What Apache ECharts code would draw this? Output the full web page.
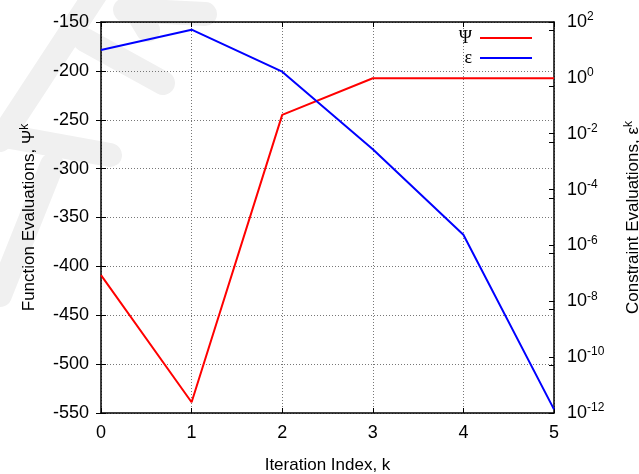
<!DOCTYPE html>
<html><head><meta charset="utf-8">
<script src="https://cdn.jsdelivr.net/npm/echarts@6/dist/echarts.min.js"></script>
<style>html,body{margin:0;padding:0;background:#fff}#c{width:639px;height:474px}</style>
</head><body><div id="c"></div>
<script>
const iterations = [0, 1, 2, 3, 4, 5];
const psiValues = [-409, -539, -245, -207.5, -207.5, -207.5];
const epsValues = [10, 53, 1.66, 2.77e-3, 2.4e-6, 1.35e-12];
const leftTicks = {min: -550, max: -150, interval: 50};
const rightTicks = {min: 1e-12, max: 1e2};

const font = 'Liberation Sans, Arial, sans-serif';
const chart = echarts.init(document.getElementById('c'), null, {renderer: 'canvas'});
const supRich = {
  base: {fontFamily: font, fontSize: 18, color: '#000'},
  sup: {fontFamily: font, fontSize: 12, color: '#000', verticalAlign: 'bottom', padding: [0, 0, 10, 0]}
};
const nameRich = {
  sup: {fontFamily: font, fontSize: 12, color: '#000', verticalAlign: 'bottom', padding: [0, 0, 9, 0]}
};
const gridLine = {show: true, lineStyle: {color: '#777', type: [1, 2], width: 1}};
const wm = (pts) => ({
  type: 'polyline', z: -5, silent: true,
  shape: {points: pts},
  style: {stroke: '#f0f0f0', lineWidth: 24, lineCap: 'round', lineJoin: 'round', fill: null}
});
chart.setOption({
  animation: false,
  graphic: [
    wm([[95, -5], [0, 140]]),
    wm([[85, 40], [163, 83]]),
    wm([[130, 0], [148, 30]]),
    wm([[125, 10], [205, 14]]),
    wm([[0, 135], [110, 155]]),
    wm([[0, 295], [52, 165]])
  ],
  grid: {left: 101, right: 85, top: 22, bottom: 61, containLabel: false, outerBoundsMode: 'none'},
  legend: {
    orient: 'vertical', right: 102, top: 24, align: 'right',
    itemWidth: 52, itemHeight: 2, itemGap: 2, icon: 'rect',
    textStyle: {fontFamily: 'Liberation Serif, Times New Roman, serif', fontSize: 18, color: '#000', padding: [0, 3, 0, 0]},
    data: ['Ψ', 'ε']
  },
  xAxis: [{
    type: 'value', min: 0, max: 5, interval: 1,
    name: 'Iteration Index, k', nameLocation: 'middle', nameGap: 44,
    nameTextStyle: {fontFamily: font, fontSize: 17, color: '#000'},
    axisLine: {show: true, onZero: false, lineStyle: {color: '#000', width: 1.5}},
    axisTick: {show: true, inside: true, length: 5, lineStyle: {color: '#000'}},
    axisLabel: {fontFamily: font, fontSize: 18, color: '#000', margin: 11},
    splitLine: gridLine
  }, {
    type: 'value', min: 0, max: 5, interval: 1, position: 'top',
    axisLine: {show: true, onZero: false, lineStyle: {color: '#000', width: 1.5}},
    axisTick: {show: true, inside: true, length: 5, lineStyle: {color: '#000'}},
    axisLabel: {show: false}, splitLine: {show: false}
  }],
  yAxis: [{
    type: 'value', min: leftTicks.min, max: leftTicks.max, interval: leftTicks.interval,
    name: 'Function Evaluations, Ψ{sup|k}', nameLocation: 'middle', nameGap: 61,
    nameTextStyle: {fontFamily: font, fontSize: 17, color: '#000', rich: nameRich},
    axisLine: {show: true, onZero: false, lineStyle: {color: '#000', width: 1.5}},
    axisTick: {show: true, inside: true, length: 5, lineStyle: {color: '#000'}},
    axisLabel: {fontFamily: font, fontSize: 18, color: '#000', margin: 12},
    splitLine: gridLine
  }, {
    type: 'log', logBase: 10, min: rightTicks.min, max: rightTicks.max, interval: 2, position: 'right',
    name: 'Constraint Evaluations, ε{sup|k}', nameLocation: 'middle', nameGap: 69, nameRotate: 90,
    nameTextStyle: {fontFamily: font, fontSize: 17, color: '#000', rich: nameRich},
    axisLine: {show: true, onZero: false, lineStyle: {color: '#000', width: 1.5}},
    axisTick: {show: true, inside: true, length: 5, lineStyle: {color: '#000'}},
    minorTick: {show: true, splitNumber: 2, length: 5, lineStyle: {color: '#000'}},
    axisLabel: {
      margin: 13,
      formatter: v => '{base|10}{sup|' + Math.round(Math.log10(v)) + '}',
      rich: supRich
    },
    splitLine: {show: false}
  }, {
    type: 'value', min: leftTicks.min, max: leftTicks.max, interval: leftTicks.interval, position: 'right',
    axisLine: {show: false}, axisLabel: {show: false}, splitLine: {show: false},
    axisTick: {show: true, inside: true, length: 5, lineStyle: {color: '#000'}}
  }],
  series: [{
    name: 'Ψ', type: 'line', xAxisIndex: 0, yAxisIndex: 0, showSymbol: false,
    color: '#ff0000', lineStyle: {width: 2, color: '#ff0000'},
    data: iterations.map((k, i) => [k, psiValues[i]])
  }, {
    name: 'ε', type: 'line', xAxisIndex: 0, yAxisIndex: 1, showSymbol: false,
    color: '#0000ff', lineStyle: {width: 2, color: '#0000ff'},
    data: iterations.map((k, i) => [k, epsValues[i]])
  }]
});
</script></body></html>
